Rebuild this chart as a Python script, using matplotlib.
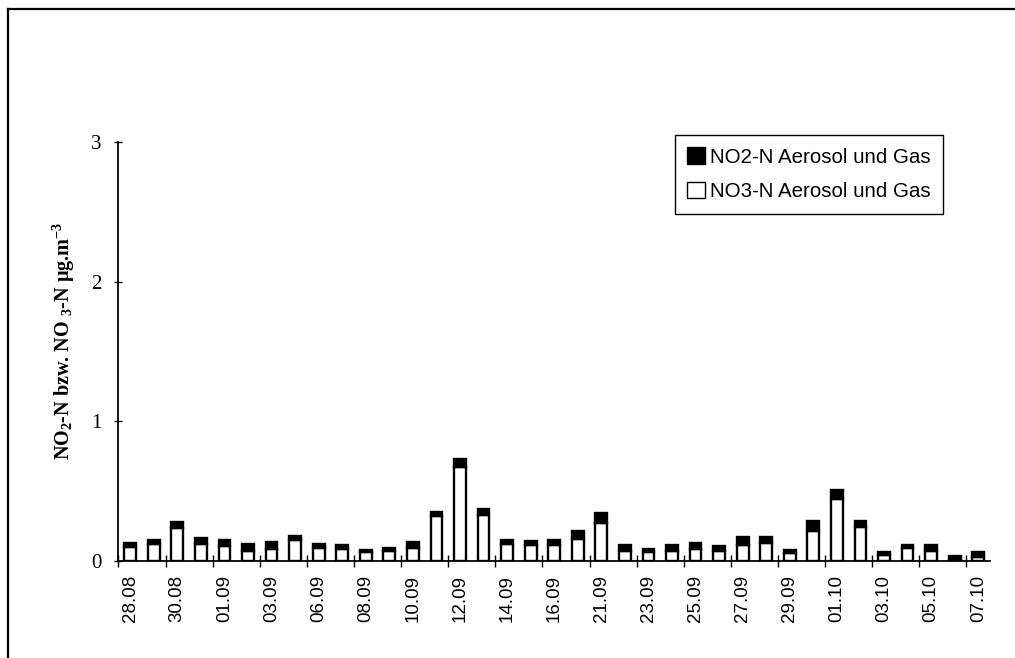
import numpy as np
import matplotlib
matplotlib.use('Agg')
import matplotlib.pyplot as plt
from matplotlib.patches import Patch
from matplotlib.lines import Line2D

plt.rcParams['mathtext.fontset'] = 'custom'
plt.rcParams['mathtext.rm'] = 'Liberation Serif'
plt.rcParams['mathtext.default'] = 'regular'

# Werte (µg/m3), 37 Messtage
no3 = [0.100, 0.125, 0.235, 0.125, 0.110, 0.070, 0.085, 0.150, 0.095, 0.086,
       0.064, 0.074, 0.095, 0.322, 0.670, 0.330, 0.119, 0.115, 0.117, 0.158,
       0.274, 0.074, 0.067, 0.072, 0.086, 0.069, 0.115, 0.131, 0.055, 0.215,
       0.446, 0.246, 0.042, 0.091, 0.074, 0.010, 0.031]
no2 = [0.031, 0.025, 0.042, 0.040, 0.038, 0.049, 0.049, 0.029, 0.027, 0.026,
       0.012, 0.021, 0.039, 0.031, 0.058, 0.040, 0.034, 0.026, 0.036, 0.057,
       0.070, 0.041, 0.017, 0.040, 0.040, 0.041, 0.057, 0.038, 0.026, 0.071,
       0.060, 0.040, 0.023, 0.021, 0.038, 0.026, 0.033]
# Beschriftung nur an jedem zweiten Balken
tick_labels = ['28.08', '30.08', '01.09', '03.09', '06.09', '08.09', '10.09',
               '12.09', '14.09', '16.09', '21.09', '23.09', '25.09', '27.09',
               '29.09', '01.10', '03.10', '05.10', '07.10']

x = np.arange(len(no3))

fig = plt.figure(figsize=(10.15, 6.58), dpi=100)
ax = fig.add_axes([0.1167, 0.1474, 0.8587, 0.6368])

ax.bar(x, no3, width=0.5, color='white', edgecolor='black', linewidth=1.7)
ax.bar(x, no2, width=0.5, bottom=no3, color='black', edgecolor='black', linewidth=1.7)

ax.set_xlim(-0.5, len(no3) - 0.5)
ax.set_ylim(0, 3)
ax.set_yticks([0, 1, 2, 3])
ax.set_yticklabels(['0', '1', '2', '3'], family='Liberation Serif', fontsize=15)
ax.tick_params(axis='y', direction='inout', length=6, width=1, pad=9)

ax.set_xticks(np.arange(-0.5, len(no3), 2))
ax.set_xticklabels([])
ax.tick_params(axis='x', which='major', direction='inout', length=9, width=1)
ax.set_xticks(x[::2], minor=True)
ax.set_xticklabels(tick_labels, minor=True, rotation=90, family='Liberation Sans', fontsize=13.5)
ax.tick_params(axis='x', which='minor', length=0, pad=10)

for s in ['top', 'right']:
    ax.spines[s].set_visible(False)
ax.spines['left'].set_linewidth(1.3)
ax.spines['bottom'].set_linewidth(1.3)

ax.set_ylabel(r'NO$_2$-N bzw. NO $_3$-N µg.m$^{-3}$', family='Liberation Serif',
              fontweight='bold', fontsize=14.5)
ax.yaxis.set_label_coords(-0.047, 0.525)

handles = [Patch(facecolor='black', edgecolor='black', label='NO2-N Aerosol und Gas'),
           Patch(facecolor='white', edgecolor='black', label='NO3-N Aerosol und Gas')]
leg = fig.legend(handles=handles, loc='upper left', bbox_to_anchor=(0.665, 0.795),
                 borderaxespad=0, frameon=True, fancybox=False, edgecolor='black',
                 framealpha=1, prop={'family': 'Liberation Sans', 'size': 14.8},
                 handlelength=0.85, handleheight=0.85, handletextpad=0.25,
                 labelspacing=0.75, borderpad=0.6)
leg.get_frame().set_linewidth(1.0)

# Rahmen links und oben
fig.add_artist(Line2D([7.5 / 1015, 7.5 / 1015], [0, 1 - 8.5 / 658], color='black', lw=1.6))
fig.add_artist(Line2D([7.5 / 1015, 1], [1 - 8.5 / 658, 1 - 8.5 / 658], color='black', lw=1.6))

fig.savefig('out.png', dpi=100)
